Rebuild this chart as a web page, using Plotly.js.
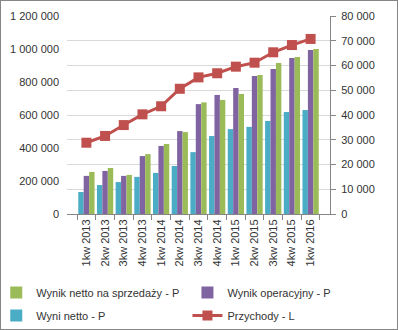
<!DOCTYPE html>
<html><head><meta charset="utf-8">
<script src="https://cdn.plot.ly/plotly-3.0.1.min.js"></script>
<style>
body{margin:0;padding:0;background:#fff;}
#wrap{position:relative;width:398px;height:330px;}
#chart{position:absolute;left:0;top:0;width:398px;height:330px;}
#frame{position:absolute;left:0;top:0;width:396px;height:328px;border:1px solid #868686;pointer-events:none;}
</style></head>
<body><div id="wrap"><div id="chart"></div><div id="frame"></div></div>
<script>
const categories = ["1kw 2013","2kw 2013","3kw 2013","4kw 2013","1kw 2014","2kw 2014","3kw 2014","4kw 2014","1kw 2015","2kw 2015","3kw 2015","4kw 2015","1kw 2016"];
const wyniNetto = [8900,11700,12900,15000,16600,19400,25000,31500,34300,35200,37600,41200,42000];
const wynikOperacyjny = [15400,17400,15400,23400,27500,33500,44400,48100,50900,55800,58600,63000,66300];
const wynikNettoSprzedazy = [17000,18600,15800,24200,28300,33100,45100,46100,48500,56200,61000,63400,66700];
const przychody = [432000,473000,539000,604000,653000,759000,828000,853000,893000,917000,980000,1024000,1061000];

const font = {family:"Liberation Sans, Arial, sans-serif", size:11, color:"#333333"};
const traces = [
 {type:"bar", name:"Wyni netto - P", x:categories, y:wyniNetto, yaxis:"y2", marker:{color:"#4bacc6"}, legend:"legend", legendrank:2, legendgroup:"a"},
 {type:"bar", name:"Wynik operacyjny - P", x:categories, y:wynikOperacyjny, yaxis:"y2", marker:{color:"#8064a2"}, legend:"legend2", legendrank:1, legendgroup:"b"},
 {type:"bar", name:"Wynik netto na sprzedaży - P", x:categories, y:wynikNettoSprzedazy, yaxis:"y2", marker:{color:"#9bbb59"}, legend:"legend", legendrank:1, legendgroup:"c"},
 {type:"scatter", mode:"lines+markers", name:"Przychody - L", x:categories, y:przychody, yaxis:"y",
  line:{color:"#c0504d", width:3}, marker:{symbol:"square", size:10, color:"#c0504d"}, legend:"legend2", legendrank:2, legendgroup:"d"}
];
const legBase = {orientation:"v", xanchor:"left", y:-0.323, yanchor:"top", font:font, bgcolor:"rgba(0,0,0,0)", tracegroupgap:4};
const layout = {
 width:398, height:330, margin:{l:67, r:68, t:16, b:116, autoexpand:false},
 paper_bgcolor:"#fff", plot_bgcolor:"#fff", font:font, separators:", ",
 barmode:"group", bargap:0.13, bargroupgap:0, showlegend:true,
 xaxis:{type:"category", tickangle:-90, tickson:"boundaries", ticks:"outside", ticklen:5, tickcolor:"#868686",
   showline:true, linecolor:"#868686", showgrid:false, tickfont:font, fixedrange:true},
 yaxis:{range:[0,1200000], dtick:200000, tickformat:",d", showgrid:false, showline:false, ticks:"", zeroline:false, tickfont:font, ticklabelstandoff:7},
 yaxis2:{range:[0,80000], dtick:10000, tickformat:",d", overlaying:"y", side:"right", showgrid:true, gridcolor:"#d9d9d9",
   showline:true, linecolor:"#868686", ticks:"outside", ticklen:5, tickcolor:"#868686", zeroline:false, tickfont:font, ticklabelstandoff:3},
 legend:Object.assign({}, legBase, {x:-0.269}),
 legend2:Object.assign({}, legBase, {x:0.458})
};
Plotly.newPlot("chart", traces, layout, {staticPlot:true});
</script></body></html>
